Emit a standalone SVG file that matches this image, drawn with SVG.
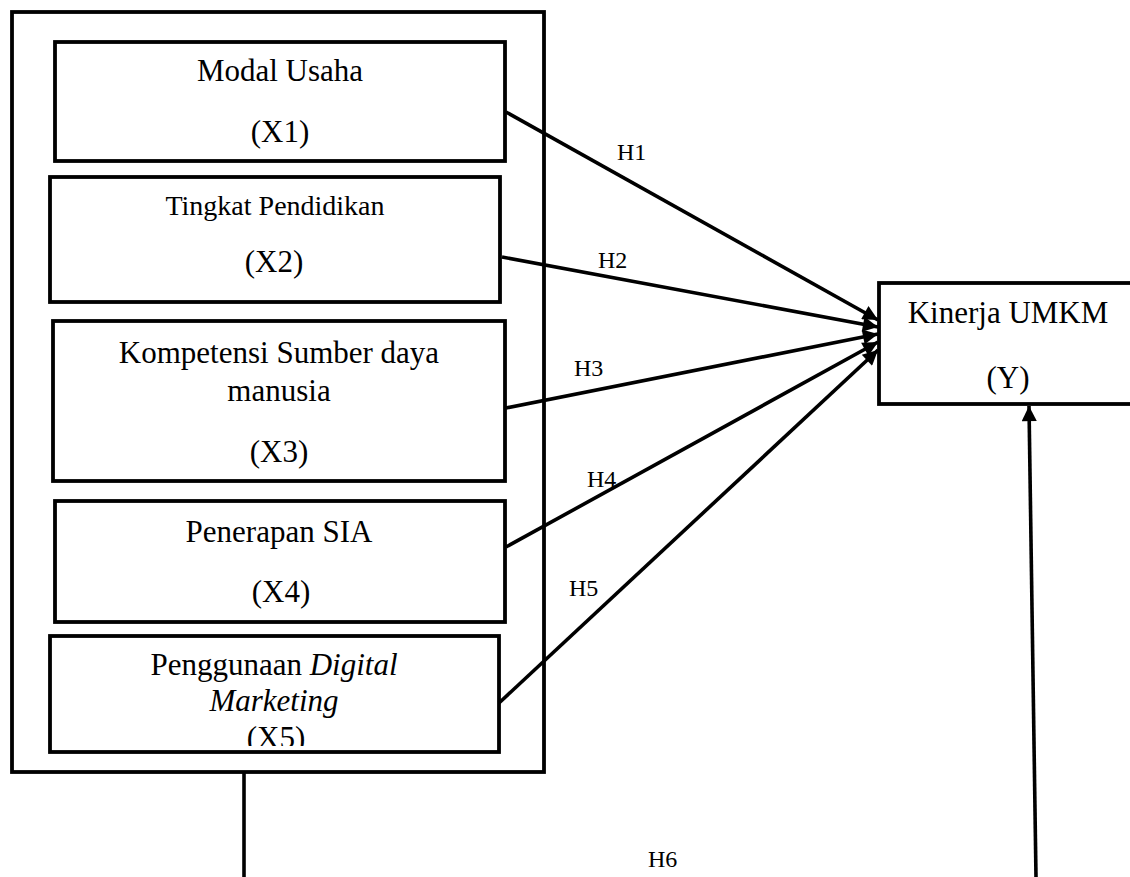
<svg xmlns="http://www.w3.org/2000/svg" width="1130" height="877" viewBox="0 0 1130 877">
<style>
.box{fill:#fff;stroke:#000;stroke-width:3.8}
.t{font-family:"Liberation Serif","Times New Roman",serif;font-size:31px;fill:#000;text-anchor:middle}
.s{font-size:28px}
.h{font-family:"Liberation Serif","Times New Roman",serif;font-size:24px;fill:#000}
.c{stroke:#000;stroke-width:3.6;fill:none}
</style>
<defs>
<marker id="ah" viewBox="0 0 10 10" refX="10" refY="5" markerWidth="4.6" markerHeight="4.2" markerUnits="strokeWidth" orient="auto">
<path d="M0,0 L10,5 L0,10 z" fill="#000"/>
</marker>
<clipPath id="x5clip"><rect x="50" y="636" width="450" height="110"/></clipPath>
</defs>
<rect id="outer" class="box" x="12" y="12" width="532" height="760" fill="none"/>
<g id="x1">
<rect class="box" x="55" y="42" width="450" height="119"/>
<text class="t" x="280" y="81">Modal Usaha</text>
<text class="t" x="280" y="142">(X1)</text>
</g>
<g id="x2">
<rect class="box" x="50" y="177" width="450" height="125"/>
<text class="t s" x="275" y="215">Tingkat Pendidikan</text>
<text class="t" x="274" y="272">(X2)</text>
</g>
<g id="x3">
<rect class="box" x="53" y="321" width="452" height="160"/>
<text class="t" x="279" y="363">Kompetensi Sumber daya</text>
<text class="t" x="279" y="401">manusia</text>
<text class="t" x="279" y="462">(X3)</text>
</g>
<g id="x4">
<rect class="box" x="55" y="501" width="450" height="121"/>
<text class="t" x="279" y="542">Penerapan SIA</text>
<text class="t" x="281" y="602">(X4)</text>
</g>
<g id="x5">
<rect class="box" x="50" y="636" width="449" height="116"/>
<text class="t" x="274" y="675">Penggunaan <tspan font-style="italic">Digital</tspan></text>
<text class="t" x="274" y="711" font-style="italic">Marketing</text>
<text class="t" x="276" y="748" clip-path="url(#x5clip)">(X5)</text>
</g>
<g id="y">
<rect class="box" x="879" y="283" width="260" height="121"/>
<text class="t" x="1008" y="323">Kinerja UMKM</text>
<text class="t" x="1008" y="388">(Y)</text>
</g>
<g id="connectors">
<line class="c" x1="506" y1="112" x2="878" y2="320" marker-end="url(#ah)"/>
<line class="c" x1="502" y1="257" x2="878" y2="327" marker-end="url(#ah)"/>
<line class="c" x1="506" y1="408" x2="878" y2="334" marker-end="url(#ah)"/>
<line class="c" x1="506" y1="547" x2="878" y2="342" marker-end="url(#ah)"/>
<line class="c" x1="499" y1="703" x2="878" y2="350" marker-end="url(#ah)"/>
<line class="c" x1="244" y1="772" x2="244" y2="877"/>
<line class="c" x1="1036" y1="877" x2="1029" y2="406" marker-end="url(#ah)"/>
</g>
<g id="labels">
<text class="h" x="617" y="160">H1</text>
<text class="h" x="598" y="268">H2</text>
<text class="h" x="574" y="376">H3</text>
<text class="h" x="587" y="487">H4</text>
<text class="h" x="569" y="596">H5</text>
<text class="h" x="648" y="867">H6</text>
</g>
</svg>
